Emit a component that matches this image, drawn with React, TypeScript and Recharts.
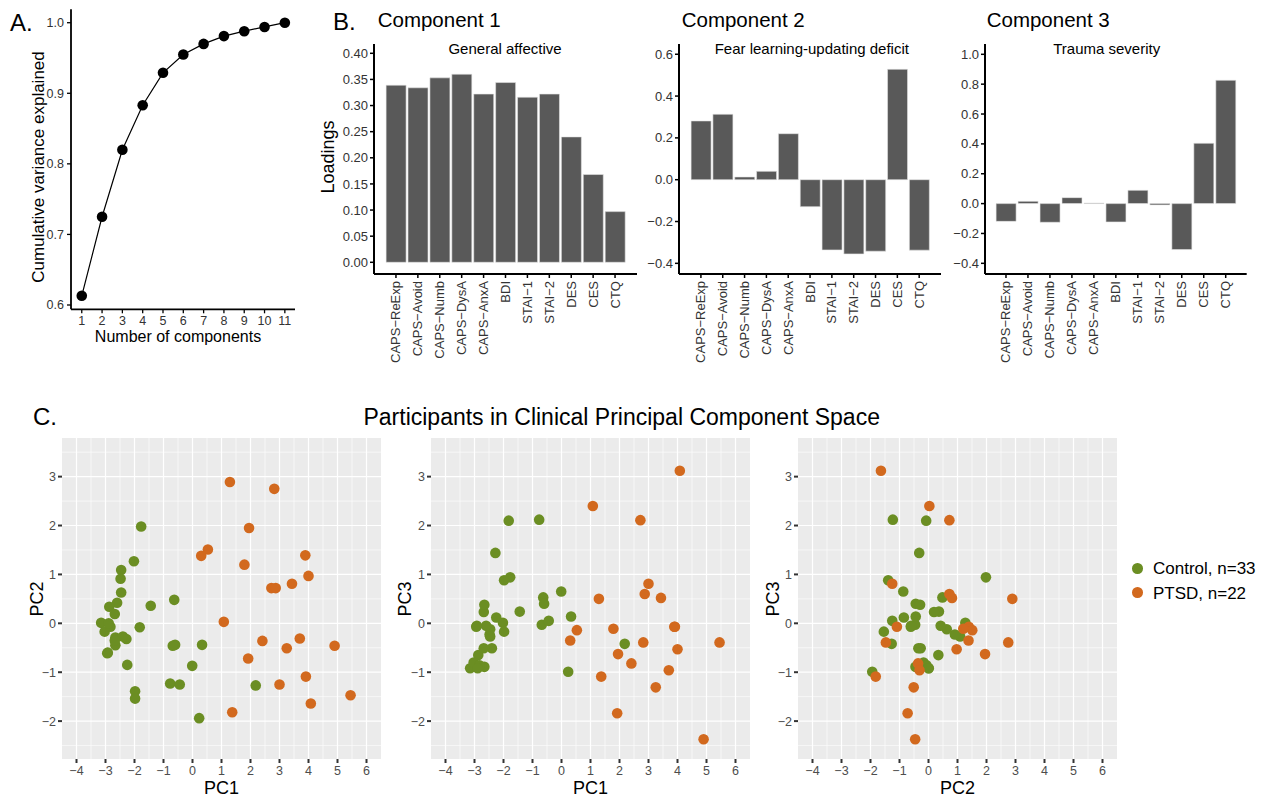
import React from "react";
import {
  LineChart,
  Line,
  BarChart,
  Bar,
  ScatterChart,
  Scatter,
  XAxis,
  YAxis,
  CartesianGrid,
} from "recharts";

const FONT = '"Liberation Sans", Arial, Helvetica, sans-serif';
const GREEN = "#6B8E23";
const ORANGE = "#D2691E";

// A. cumulative variance explained
const components = [1, 2, 3, 4, 5, 6, 7, 8, 9, 10, 11];
const cumVariance = [0.613, 0.725, 0.82, 0.883, 0.929, 0.955, 0.97, 0.981, 0.988, 0.994, 1.0];

// B. loadings per clinical measure
const measures = [
  "CAPS−ReExp",
  "CAPS−Avoid",
  "CAPS−Numb",
  "CAPS−DysA",
  "CAPS−AnxA",
  "BDI",
  "STAI−1",
  "STAI−2",
  "DES",
  "CES",
  "CTQ",
];
const loadingsPC1 = [0.339, 0.334, 0.353, 0.36, 0.322, 0.344, 0.316, 0.322, 0.24, 0.168, 0.097];
const loadingsPC2 = [0.281, 0.313, 0.013, 0.04, 0.22, -0.129, -0.336, -0.355, -0.342, 0.528, -0.337];
const loadingsPC3 = [-0.119, 0.015, -0.125, 0.04, 0.004, -0.123, 0.089, -0.009, -0.308, 0.404, 0.826];

// C. participant scores
const controlPC1 = [
  -1.82, -0.77, -2.28, -1.77, -1.98, -0.01, -0.63, -0.6, -0.68, -0.44, 0.33,
  0.23, 2.18, -1.44, -2.02, -1.98, -2.25, -2.46, -2.48, -2.46, -2.6, -2.87,
  -2.68, -3.15, -2.66, -2.94, -2.4, -2.66, -3.03, -2.83, -2.89, -2.68, -2.92,
];
const controlPC2 = [
  -0.08, -1.23, -0.32, 1.98, -1.39, -0.87, 0.48, -0.44, -0.46, -1.25, -0.44,
  -1.94, -1.27, 0.36, 1.27, -1.54, -0.85, 1.09, 0.91, 0.63, 0.42, 0.34,
  0.19, 0.01, -0.29, -0.61, -0.27, -0.45, -0.17, -0.07, 0.0, -0.35, -0.6,
];
const controlPC3 = [
  2.1, 2.12, 1.44, 0.94, 0.88, 0.65, 0.53, 0.4, -0.03, 0.05, 0.14,
  -0.99, -0.42, 0.24, 0.01, -0.17, 0.12, -0.27, -0.23, -0.12, -0.05, -0.65,
  0.23, -0.92, 0.38, -0.07, -0.51, -0.89, -0.8, -0.86, -0.92, -0.51, -0.05,
];
const ptsdPC1 = [
  4.08, 1.08, 2.72, 3.0, 2.87, 3.43, 1.29, 3.89, 3.91, 0.53, 1.79,
  0.3, 2.82, 5.45, 4.0, 1.95, 2.41, 3.7, 1.37, 3.25, 1.92, 4.9,
];
const ptsdPC2 = [
  -1.64, 0.03, 0.72, -1.25, 0.72, 0.81, 2.89, 1.39, -1.09, 1.51, 1.2,
  1.38, 2.75, -1.47, 0.97, 1.95, -0.36, -0.31, -1.82, -0.51, -0.72, -0.46,
];
const ptsdPC3 = [
  3.12, 2.4, 2.11, 0.81, 0.6, 0.52, 0.5, -0.07, -0.07, -0.14, -0.11,
  -0.35, -0.39, -0.39, -0.53, -0.63, -0.82, -0.96, -1.09, -1.31, -1.84, -2.37,
];

const scoreTicksX = [-4, -3, -2, -1, 0, 1, 2, 3, 4, 5, 6];
const scoreTicksY = [-2, -1, 0, 1, 2, 3];
const minorX = [-3.5, -2.5, -1.5, -0.5, 0.5, 1.5, 2.5, 3.5, 4.5, 5.5];
const minorY = [-2.5, -1.5, -0.5, 0.5, 1.5, 2.5, 3.5];

const signed = (v: number, digits = 0) =>
  v < 0 ? `−${Math.abs(v).toFixed(digits)}` : v.toFixed(digits);

type TxtProps = {
  x: number;
  y: number;
  size: number;
  children: React.ReactNode;
  rotate?: boolean;
  left?: boolean;
};

function Txt({ x, y, size, children, rotate, left }: TxtProps) {
  const tr = left ? "translate(0,-50%)" : "translate(-50%,-50%)";
  return (
    <div
      style={{
        position: "absolute",
        left: x,
        top: y,
        fontSize: size,
        lineHeight: 1,
        whiteSpace: "nowrap",
        color: "#000",
        transform: rotate ? `${tr} rotate(-90deg)` : tr,
      }}
    >
      {children}
    </div>
  );
}

function RotatedTick({ x, y, payload }: any) {
  return (
    <text
      x={x}
      y={y}
      transform={`rotate(-90 ${x} ${y})`}
      textAnchor="end"
      dominantBaseline="central"
      fontSize={13}
      fill="#333"
      fontFamily={FONT}
    >
      {payload.value}
    </text>
  );
}

type LoadingsProps = {
  left: number;
  width: number;
  values: number[];
  domain: [number, number];
  ticks: number[];
  digits: number;
  pad: number;
};

function LoadingsPanel({ left, width, values, domain, ticks, digits, pad }: LoadingsProps) {
  const data = measures.map((m, i) => ({ measure: m, value: values[i] }));
  return (
    <div style={{ position: "absolute", left, top: 0 }}>
      <BarChart
        width={width}
        height={390}
        data={data}
        margin={{ top: 44, right: 0, left: 0, bottom: 0 }}
        barCategoryGap="5%"
      >
        <XAxis
          dataKey="measure"
          type="category"
          interval={0}
          height={116}
          padding={{ left: pad, right: pad }}
          tick={<RotatedTick />}
          tickSize={4}
          tickMargin={3}
          axisLine={{ stroke: "#000", strokeWidth: 2 }}
          tickLine={{ stroke: "#000", strokeWidth: 1.5 }}
        />
        <YAxis
          type="number"
          domain={domain}
          ticks={ticks}
          allowDataOverflow
          interval={0}
          width={50}
          tickFormatter={(v: number) => signed(v, digits)}
          tick={{ fontSize: 13, fill: "#333", fontFamily: FONT }}
          tickSize={4}
          tickMargin={2}
          axisLine={{ stroke: "#000", strokeWidth: 2 }}
          tickLine={{ stroke: "#000", strokeWidth: 1.5 }}
        />
        <Bar
          dataKey="value"
          fill="#595959"
          stroke="#e4e4e4"
          strokeWidth={0.6}
          isAnimationActive={false}
        />
      </BarChart>
    </div>
  );
}

function dotShape(color: string) {
  return (p: any) => <circle cx={p.cx} cy={p.cy} r={5.3} fill={color} />;
}

function ScoresPanel({ left, xs, ys }: { left: number; xs: [number[], number[]]; ys: [number[], number[]] }) {
  const control = xs[0].map((v, i) => ({ x: v, y: ys[0][i] }));
  const ptsd = xs[1].map((v, i) => ({ x: v, y: ys[1][i] }));
  const tickStyle = { fontSize: 12.5, fill: "#4D4D4D", fontFamily: FONT };
  return (
    <div style={{ position: "absolute", left, top: 430 }}>
      <ScatterChart width={369} height={369} margin={{ top: 8, right: 0, left: 0, bottom: 0 }}>
        <CartesianGrid
          fill="#EBEBEB"
          fillOpacity={1}
          stroke="#ffffff"
          strokeWidth={0.6}
          horizontalValues={minorY}
          verticalValues={minorX}
        />
        <CartesianGrid
          fill="none"
          stroke="#ffffff"
          strokeWidth={1.2}
          horizontalValues={scoreTicksY}
          verticalValues={scoreTicksX}
        />
        <XAxis
          type="number"
          dataKey="x"
          domain={[-4.5, 6.5]}
          ticks={scoreTicksX}
          interval={0}
          allowDataOverflow
          height={40}
          axisLine={false}
          tickLine={{ stroke: "#333", strokeWidth: 2 }}
          tickSize={4}
          tickMargin={3}
          tick={tickStyle}
          tickFormatter={(v: number) => signed(v)}
        />
        <YAxis
          type="number"
          dataKey="y"
          domain={[-2.775, 3.79]}
          ticks={scoreTicksY}
          interval={0}
          allowDataOverflow
          width={50}
          axisLine={false}
          tickLine={{ stroke: "#333", strokeWidth: 2 }}
          tickSize={4}
          tickMargin={2}
          tick={tickStyle}
          tickFormatter={(v: number) => signed(v)}
        />
        <Scatter data={control} fill={GREEN} shape={dotShape(GREEN)} isAnimationActive={false} />
        <Scatter data={ptsd} fill={ORANGE} shape={dotShape(ORANGE)} isAnimationActive={false} />
      </ScatterChart>
    </div>
  );
}

export default function App() {
  const varData = components.map((n, i) => ({ n, v: cumVariance[i] }));
  const axisA = { stroke: "#000", strokeWidth: 1.8 };
  const tickA = { fontSize: 12.5, fill: "#333", fontFamily: FONT };

  return (
    <div
      style={{
        position: "absolute",
        left: 0,
        top: 0,
        width: 1266,
        height: 799,
        background: "#fff",
        fontFamily: FONT,
        overflow: "hidden",
      }}
    >
      {/* A */}
      <div style={{ position: "absolute", left: 0, top: 0 }}>
        <LineChart width={300} height={330} data={varData} margin={{ top: 9.3, right: 5, left: 0, bottom: 0 }}>
          <XAxis
            type="number"
            dataKey="n"
            domain={[0.47, 11.5]}
            ticks={components}
            interval={0}
            allowDataOverflow
            height={20.7}
            axisLine={axisA}
            tickLine={{ stroke: "#000", strokeWidth: 1.3 }}
            tickSize={4}
            tickMargin={2.5}
            tick={tickA}
          />
          <YAxis
            type="number"
            domain={[0.5939, 1.019]}
            ticks={[0.6, 0.7, 0.8, 0.9, 1.0]}
            interval={0}
            allowDataOverflow
            width={71}
            axisLine={axisA}
            tickLine={{ stroke: "#000", strokeWidth: 1.3 }}
            tickSize={4}
            tickMargin={3}
            tick={tickA}
            tickFormatter={(v: number) => v.toFixed(1)}
          />
          <Line
            dataKey="v"
            stroke="#000"
            strokeWidth={1.2}
            dot={{ r: 5.3, fill: "#000", stroke: "#000", strokeWidth: 0 }}
            isAnimationActive={false}
          />
        </LineChart>
      </div>
      <Txt x={10} y={23} size={24} left>A.</Txt>
      <Txt x={37.7} y={167} size={17} rotate>Cumulative variance explained</Txt>
      <Txt x={178} y={337} size={16}>Number of components</Txt>

      {/* B */}
      <LoadingsPanel
        left={324}
        width={313}
        values={loadingsPC1}
        domain={[-0.0224, 0.4178]}
        ticks={[0, 0.05, 0.1, 0.15, 0.2, 0.25, 0.3, 0.35, 0.4]}
        digits={2}
        pad={11}
      />
      <LoadingsPanel
        left={629.3}
        width={312.1}
        values={loadingsPC2}
        domain={[-0.451, 0.649]}
        ticks={[-0.4, -0.2, 0, 0.2, 0.4, 0.6]}
        digits={1}
        pad={11}
      />
      <LoadingsPanel
        left={935.3}
        width={311.7}
        values={loadingsPC3}
        domain={[-0.4715, 1.069]}
        ticks={[-0.4, -0.2, 0, 0.2, 0.4, 0.6, 0.8, 1.0]}
        digits={1}
        pad={10}
      />
      <Txt x={333} y={22} size={24} left>B.</Txt>
      <Txt x={377.7} y={20} size={20.5} left>Component 1</Txt>
      <Txt x={681.7} y={20} size={20.5} left>Component 2</Txt>
      <Txt x={986.7} y={20} size={20.5} left>Component 3</Txt>
      <Txt x={505} y={48} size={15}>General affective</Txt>
      <Txt x={811.8} y={48} size={15}>Fear learning-updating deficit</Txt>
      <Txt x={1106.7} y={48} size={15}>Trauma severity</Txt>
      <Txt x={328.3} y={157} size={18} rotate>Loadings</Txt>

      {/* C */}
      <Txt x={33} y={417} size={24} left>C.</Txt>
      <Txt x={621.7} y={416.7} size={23}>Participants in Clinical Principal Component Space</Txt>
      <ScoresPanel left={12} xs={[controlPC1, ptsdPC1]} ys={[controlPC2, ptsdPC2]} />
      <ScoresPanel left={381} xs={[controlPC1, ptsdPC1]} ys={[controlPC3, ptsdPC3]} />
      <ScoresPanel left={748} xs={[controlPC2, ptsdPC2]} ys={[controlPC3, ptsdPC3]} />
      <Txt x={221.5} y={788} size={18}>PC1</Txt>
      <Txt x={590.5} y={788} size={18}>PC1</Txt>
      <Txt x={957.5} y={788} size={18}>PC2</Txt>
      <Txt x={36.7} y={598.5} size={18} rotate>PC2</Txt>
      <Txt x={405} y={598.5} size={18} rotate>PC3</Txt>
      <Txt x={773.3} y={598.5} size={18} rotate>PC3</Txt>

      {/* legend */}
      <div style={{ position: "absolute", left: 1132, top: 563, width: 10.7, height: 10.7, borderRadius: "50%", background: GREEN }} />
      <div style={{ position: "absolute", left: 1132, top: 587.3, width: 10.7, height: 10.7, borderRadius: "50%", background: ORANGE }} />
      <Txt x={1153} y={568.3} size={17} left>Control, n=33</Txt>
      <Txt x={1153} y={592.7} size={17} left>PTSD, n=22</Txt>
    </div>
  );
}
